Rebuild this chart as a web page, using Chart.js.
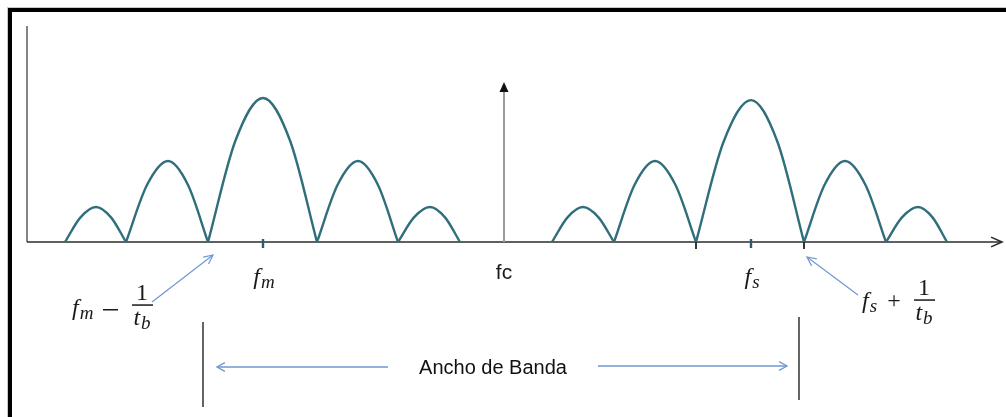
<!DOCTYPE html>
<html><head><meta charset="utf-8">
<script src="https://cdn.jsdelivr.net/npm/chart.js@4/dist/chart.umd.min.js"></script>
<style>html,body{margin:0;padding:0;background:#fff}canvas{display:block}</style>
</head><body>
<canvas id="c" width="1006" height="417" style="width:1006px;height:417px"></canvas>
<script>
// Two sinc-shaped sidebands around the carrier; frequency axis is centred on fc.
// Each lobe: zero, rising shoulder, peak, falling shoulder, zero.
const leftLobeX = [
  [-43.9, -42.35, -40.8, -39.3, -37.8],
  [-37.8, -35.7, -33.6, -31.6, -29.6],
  [-29.6, -26.85, -24.1, -21.4, -18.7],
  [-18.7, -16.65, -14.6, -12.6, -10.6],
  [-10.6, -9.0, -7.4, -5.9, -4.4]
];
const leftLobeY = [
  [0, 11.4, 16.2, 11.4, 0],
  [0, 26.4, 37.5, 26.4, 0],
  [0, 47.0, 66.7, 47.0, 0],
  [0, 26.4, 37.5, 26.4, 0],
  [0, 11.4, 16.2, 11.4, 0]
];
const rightLobeX = [
  [4.8, 6.35, 7.9, 9.45, 11.0],
  [11.0, 13.05, 15.1, 17.15, 19.2],
  [19.2, 21.95, 24.7, 27.35, 30.0],
  [30.0, 32.05, 34.1, 36.15, 38.2],
  [38.2, 39.8, 41.4, 42.85, 44.3]
];
const rightLobeY = [
  [0, 11.4, 16.2, 11.4, 0],
  [0, 26.4, 37.5, 26.4, 0],
  [0, 46.3, 65.7, 46.3, 0],
  [0, 26.4, 37.5, 26.4, 0],
  [0, 11.4, 16.2, 11.4, 0]
];
const carrierX = 0;
const carrierY = 74.1;
const fmX = -24.1;
const fsX = 24.7;
const lowerEdgeX = -29.6;   // fm - 1/tb
const upperEdgeX = 30.0;    // fs + 1/tb
const zeroTicks = [19.2, 30.0];
const bandEdges = [-30.1, 29.5];
const xRange = [-47.7, 49.8];
const yRange = [0, 100];
const carrierLabel = 'fc';
const bandLabel = 'Ancho de Banda';

const TEAL = '#306e7b';
const BLUE = '#6f97d0';

function lobes(xs, ys) {
  return xs.map((row, i) => ({
    data: row.map((x, j) => ({x: x, y: ys[i][j]})),
    borderColor: TEAL, borderWidth: 2.4, pointRadius: 0, fill: false,
    cubicInterpolationMode: 'monotone'
  }));
}

function openArrow(ctx, x1, y1, x2, y2, len, spread) {
  ctx.beginPath(); ctx.moveTo(x1, y1); ctx.lineTo(x2, y2); ctx.stroke();
  const a = Math.atan2(y2 - y1, x2 - x1);
  ctx.beginPath();
  ctx.moveTo(x2 - len * Math.cos(a - spread), y2 - len * Math.sin(a - spread));
  ctx.lineTo(x2, y2);
  ctx.lineTo(x2 - len * Math.cos(a + spread), y2 - len * Math.sin(a + spread));
  ctx.stroke();
}

const MATH = '"Liberation Serif", "DejaVu Serif", serif';
const SUB = 0.8;
// italic symbol with italic subscript
function subWidth(ctx, base, sub, size) {
  ctx.font = 'italic ' + size + 'px ' + MATH;
  const w = ctx.measureText(base).width;
  ctx.font = 'italic ' + Math.round(size * SUB) + 'px ' + MATH;
  return w + 1 + ctx.measureText(sub).width;
}
function drawSub(ctx, base, sub, x, y, size) {
  ctx.textAlign = 'left'; ctx.textBaseline = 'alphabetic';
  ctx.font = 'italic ' + size + 'px ' + MATH;
  ctx.fillText(base, x, y);
  const w = ctx.measureText(base).width;
  ctx.font = 'italic ' + Math.round(size * SUB) + 'px ' + MATH;
  ctx.fillText(sub, x + w + 1, y + size * 0.18);
}
function drawFraction(ctx, cx, barY, size) {
  ctx.font = size + 'px ' + MATH;
  ctx.textAlign = 'center'; ctx.textBaseline = 'alphabetic';
  ctx.fillText('1', cx, barY - 5);
  ctx.fillRect(cx - 10, barY - 0.7, 21, 1.5);
  const w = subWidth(ctx, 't', 'b', size);
  drawSub(ctx, 't', 'b', cx - w / 2, barY + 20, size);
}

const decor = {
  id: 'decor',
  beforeDatasetsDraw(chart) {
    const ctx = chart.ctx, a = chart.chartArea;
    const X = chart.scales.x, Y = chart.scales.y;
    const y0 = Y.getPixelForValue(0);
    ctx.save();
    // frame
    ctx.fillStyle = '#c8c8c8';
    ctx.fillRect(7, 7, 999, 1); ctx.fillRect(7, 7, 1, 410);
    ctx.fillStyle = '#000';
    ctx.fillRect(8, 8, 998, 4); ctx.fillRect(8, 8, 4, 409);
    // y axis
    ctx.strokeStyle = '#666'; ctx.lineWidth = 1.6;
    ctx.beginPath(); ctx.moveTo(a.left, a.top); ctx.lineTo(a.left, y0); ctx.stroke();
    // x axis with open arrow head
    ctx.strokeStyle = '#2b2b2b'; ctx.lineWidth = 1.6;
    openArrow(ctx, a.left, y0, X.getPixelForValue(xRange[1]), y0, 12, 0.42);
    // carrier line with filled head
    const cx = X.getPixelForValue(carrierX), cy = Y.getPixelForValue(carrierY);
    ctx.strokeStyle = '#9a9a9a'; ctx.lineWidth = 2;
    ctx.beginPath(); ctx.moveTo(cx, y0); ctx.lineTo(cx, cy + 9); ctx.stroke();
    ctx.fillStyle = '#111';
    ctx.beginPath(); ctx.moveTo(cx, cy); ctx.lineTo(cx - 4.5, cy + 10); ctx.lineTo(cx + 4.5, cy + 10); ctx.closePath(); ctx.fill();
    // ticks
    ctx.strokeStyle = '#222'; ctx.lineWidth = 1.8;
    zeroTicks.forEach(v => {
      const p = X.getPixelForValue(v);
      ctx.beginPath(); ctx.moveTo(p, y0); ctx.lineTo(p, y0 + 7); ctx.stroke();
    });
    ctx.strokeStyle = '#2c5c66'; ctx.lineWidth = 2.4;
    [fmX, fsX].forEach(v => {
      const p = X.getPixelForValue(v);
      ctx.beginPath(); ctx.moveTo(p, y0 - 3); ctx.lineTo(p, y0 + 6); ctx.stroke();
    });
    ctx.restore();
  },
  afterDraw(chart) {
    const ctx = chart.ctx;
    const X = chart.scales.x, Y = chart.scales.y;
    const y0 = Y.getPixelForValue(0);
    ctx.save();
    ctx.fillStyle = '#1a1a1a';
    // carrier label
    ctx.font = '21px "Liberation Sans", Arial, sans-serif';
    ctx.textAlign = 'center'; ctx.textBaseline = 'middle';
    ctx.fillText(carrierLabel, X.getPixelForValue(carrierX), y0 + 31);
    // fm, fs under their ticks
    [[fmX, 'm'], [fsX, 's']].forEach(([v, s]) => {
      const w = subWidth(ctx, 'f', s, 24);
      drawSub(ctx, 'f', s, X.getPixelForValue(v) - w / 2 + 1, y0 + 42, 24);
    });
    // lower edge annotation: fm - 1/tb
    const zl = X.getPixelForValue(lowerEdgeX);
    drawSub(ctx, 'f', 'm', zl - 136, y0 + 73, 24);
    ctx.fillRect(zl - 105, y0 + 67, 15, 1.5);
    drawFraction(ctx, zl - 66, y0 + 63, 24);
    ctx.strokeStyle = BLUE; ctx.lineWidth = 1.2;
    openArrow(ctx, zl - 56, y0 + 60, zl + 5, y0 + 13, 10, 0.45);
    // upper edge annotation: fs + 1/tb
    const zr = X.getPixelForValue(upperEdgeX);
    drawSub(ctx, 'f', 's', zr + 58, y0 + 66, 24);
    ctx.font = '24px ' + MATH; ctx.textAlign = 'center'; ctx.textBaseline = 'alphabetic';
    ctx.fillText('+', zr + 90, y0 + 66);
    drawFraction(ctx, zr + 120, y0 + 58, 24);
    openArrow(ctx, zr + 54, y0 + 53, zr + 3, y0 + 15, 10, 0.45);
    // bandwidth marker
    const bl = X.getPixelForValue(bandEdges[0]), br = X.getPixelForValue(bandEdges[1]);
    ctx.strokeStyle = '#111'; ctx.lineWidth = 1.3;
    ctx.beginPath(); ctx.moveTo(bl, y0 + 80); ctx.lineTo(bl, y0 + 165); ctx.stroke();
    ctx.beginPath(); ctx.moveTo(br, y0 + 75); ctx.lineTo(br, y0 + 158); ctx.stroke();
    const midX = (bl + br) / 2 - 8, by = y0 + 125;
    ctx.strokeStyle = BLUE; ctx.lineWidth = 1.3;
    openArrow(ctx, midX - 105, by, bl + 14, by, 9, 0.5);
    openArrow(ctx, midX + 105, by - 1, br - 12, by - 1, 9, 0.5);
    ctx.fillStyle = '#111';
    ctx.font = '20px "Liberation Sans", Arial, sans-serif';
    ctx.textAlign = 'center'; ctx.textBaseline = 'middle';
    ctx.fillText(bandLabel, midX, by + 1);
    ctx.restore();
  }
};

new Chart(document.getElementById('c'), {
  type: 'line',
  data: { datasets: [...lobes(leftLobeX, leftLobeY), ...lobes(rightLobeX, rightLobeY)] },
  options: {
    responsive: false, animation: false, devicePixelRatio: 1,
    layout: { padding: { left: 27, right: 4, top: 26, bottom: 175 } },
    plugins: { legend: { display: false }, tooltip: { enabled: false } },
    scales: {
      x: { type: 'linear', min: xRange[0], max: xRange[1], display: false },
      y: { min: yRange[0], max: yRange[1], display: false }
    },
    elements: { line: { capBezierPoints: false } }
  },
  plugins: [decor]
});
</script>
</body></html>
